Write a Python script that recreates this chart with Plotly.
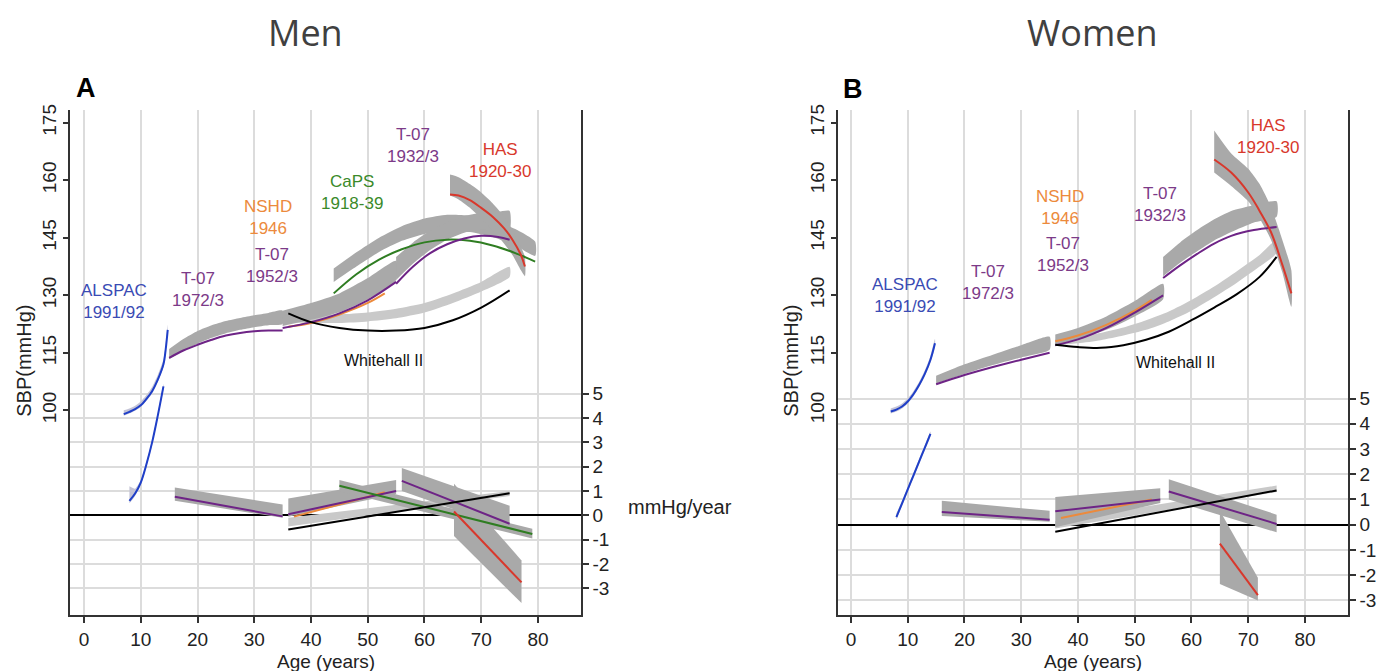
import plotly.graph_objects as go

# ================= DATA =================
# ---- Men: SBP trajectories (age, SBP mmHg) ----
M_ALSPAC_AGE = [7, 8, 9, 10, 11, 12, 13, 14, 14.4, 14.75]
M_ALSPAC_SBP = [99.0, 99.6, 100.3, 101.3, 103.0, 105.0, 108.0, 112.0, 116.0, 121.0]
M_ALSPAC_LO = [98.6, 99.2, 99.9, 100.9, 102.5, 104.4, 107.4, 111.3, 115.2, 120.2]
M_ALSPAC_HI = [100.0, 100.5, 101.2, 102.3, 104.0, 106.1, 109.2, 113.3, 117.3, 122.3]

M_T72_AGE = [15, 17.5, 20, 22.5, 25, 27.5, 30, 32.5, 35]
M_T72_SBP = [113.7, 115.6, 117.1, 118.4, 119.5, 120.2, 120.6, 120.8, 120.8]
M_T72_LO = [113.3, 115.6, 117.4, 118.9, 120.1, 121.0, 121.7, 122.2, 122.5]
M_T72_HI = [116.0, 118.6, 120.7, 122.2, 123.3, 124.1, 124.8, 125.4, 126.0]

M_T52_AGE = [35, 40, 45, 50, 55]
M_T52_SBP = [121.5, 123.0, 125.3, 128.7, 133.5]
M_T52_LO = [122.0, 123.6, 125.6, 129.0, 134.0]
M_T52_HI = [126.0, 128.0, 130.5, 134.5, 139.0]

M_NSHD_AGE = [36, 40, 45, 50, 53]
M_NSHD_SBP = [121.8, 122.8, 125.0, 128.0, 130.5]

M_CAPS_AGE = [44, 48, 52, 56, 60, 64, 68, 72, 76, 79.5]
M_CAPS_SBP = [130.5, 135.5, 139.3, 142.0, 143.8, 144.5, 144.2, 143.0, 141.0, 138.8]
M_CAPS_LO = [133.5, 137.5, 141.3, 144.2, 146.0, 146.7, 146.5, 145.2, 143.0, 140.3]
M_CAPS_HI = [137.0, 141.2, 145.0, 148.0, 150.0, 151.0, 150.8, 149.5, 147.3, 144.0]

M_T32_AGE = [55, 58, 61, 64, 67, 70, 73, 75]
M_T32_SBP = [133.0, 137.5, 141.0, 143.3, 144.8, 145.5, 145.2, 144.5]
M_T32_LO = [134.0, 138.3, 141.8, 144.5, 146.3, 147.2, 147.3, 147.0]
M_T32_HI = [140.0, 143.8, 146.8, 149.0, 150.6, 151.5, 151.8, 152.0]

M_HAS_AGE = [64.5, 66, 68, 70, 72, 74, 75.5, 77, 77.7]
M_HAS_SBP = [156.3, 156.0, 154.8, 152.8, 150.5, 147.5, 144.5, 140.5, 137.5]
M_HAS_LO = [156.0, 155.0, 152.8, 150.0, 147.0, 143.5, 140.5, 136.5, 135.0]
M_HAS_HI = [161.5, 160.8, 159.0, 156.8, 154.0, 150.5, 147.0, 142.5, 140.0]

M_WH_AGE = [36, 40, 45, 50, 55, 60, 65, 70, 75]
M_WH_SBP = [125.3, 123.0, 121.5, 120.8, 120.8, 121.5, 123.5, 126.8, 131.3]
M_WH_LO = [123.0, 122.8, 122.8, 123.2, 124.0, 125.5, 128.0, 131.0, 134.8]
M_WH_HI = [125.3, 125.0, 125.0, 125.5, 126.5, 128.0, 130.5, 133.5, 137.4]

# ---- Men: rate of change (mmHg/year) ----
M_R_ALSPAC_AGE = [8, 9, 10, 11, 12, 13, 14]
M_R_ALSPAC = [0.6, 0.9, 1.35, 2.1, 3.0, 4.1, 5.3]
M_R_ALSPAC_LO = [0.5, 0.8, 1.25, 2.0, 2.9, 4.0, 5.2]
M_R_ALSPAC_HI = [1.2, 1.1, 1.45, 2.2, 3.1, 4.2, 5.4]

M_R_T72_AGE = [16, 35]
M_R_T72 = [0.77, -0.04]
M_R_T72_LO = [0.6, -0.1]
M_R_T72_HI = [1.15, 0.45]

M_R_T52_AGE = [36, 55]
M_R_T52 = [0.05, 1.0]
M_R_T52_LO = [-0.05, 0.88]
M_R_T52_HI = [0.7, 1.45]

M_R_NSHD_AGE = [37, 53]
M_R_NSHD = [-0.05, 0.95]

M_R_CAPS_AGE = [45, 79]
M_R_CAPS = [1.22, -0.76]
M_R_CAPS_LO = [1.0, -0.95]
M_R_CAPS_HI = [1.45, -0.55]

M_R_T32_AGE = [56, 75]
M_R_T32 = [1.42, -0.34]
M_R_T32_LO = [1.0, -0.55]
M_R_T32_HI = [1.95, 0.4]

M_R_HAS_AGE = [65.2, 77.1]
M_R_HAS = [0.16, -2.75]
M_R_HAS_LO = [-0.85, -3.6]
M_R_HAS_HI = [1.3, -1.85]

M_R_WH_AGE = [36, 75]
M_R_WH = [-0.58, 0.91]
M_R_WH_LO = [-0.45, 0.8]
M_R_WH_HI = [-0.1, 1.0]

# ---- Women: SBP trajectories ----
W_ALSPAC_AGE = [7, 8, 9, 10, 11, 12, 13, 14, 14.8]
W_ALSPAC_SBP = [99.7, 100.2, 101.0, 102.3, 104.2, 106.6, 109.5, 113.2, 117.5]
W_ALSPAC_LO = [99.2, 99.7, 100.5, 101.8, 103.6, 106.0, 108.8, 112.4, 116.6]
W_ALSPAC_HI = [100.5, 101.0, 101.8, 103.1, 105.0, 107.4, 110.4, 114.2, 118.6]

W_T72_AGE = [15, 20, 25, 30, 35]
W_T72_SBP = [106.8, 109.2, 111.3, 113.2, 115.0]
W_T72_LO = [107.0, 109.5, 111.8, 113.8, 115.8]
W_T72_HI = [109.0, 112.0, 114.5, 117.0, 119.2]

W_T52_AGE = [36, 40, 45, 50, 55]
W_T52_SBP = [117.0, 118.5, 121.5, 125.5, 130.0]
W_T52_LO = [117.0, 118.5, 121.0, 124.5, 129.0]
W_T52_HI = [119.8, 121.5, 124.5, 128.5, 133.0]

W_NSHD_AGE = [36, 40, 45, 50, 53]
W_NSHD_SBP = [118.0, 119.5, 122.3, 126.0, 128.8]

W_T32_AGE = [55, 58, 61, 64, 67, 71, 75]
W_T32_SBP = [134.5, 137.8, 140.8, 143.5, 145.5, 147.0, 147.8]
W_T32_LO = [135.0, 138.5, 141.5, 144.3, 146.5, 149.0, 150.5]
W_T32_HI = [140.0, 143.8, 147.0, 149.8, 152.0, 153.5, 154.5]

W_HAS_AGE = [64, 67, 70, 72, 74, 76, 77.6]
W_HAS_SBP = [165.4, 162.0, 156.8, 152.0, 146.5, 138.0, 130.5]
W_HAS_LO = [162.0, 158.5, 154.5, 150.0, 144.5, 136.0, 127.0]
W_HAS_HI = [173.0, 167.0, 163.0, 159.0, 153.0, 144.5, 136.5]

W_WH_AGE = [36, 40, 44, 48, 52, 56, 60, 64, 68, 72, 75]
W_WH_SBP = [117.1, 116.5, 116.3, 117.0, 118.4, 120.5, 123.5, 126.8, 130.3, 134.8, 140.0]
W_WH_LO = [117.0, 117.5, 118.3, 119.5, 121.0, 123.2, 126.0, 129.5, 133.3, 137.5, 141.0]
W_WH_HI = [118.5, 119.3, 120.2, 121.6, 123.5, 125.8, 128.8, 132.3, 136.3, 140.5, 144.5]

# ---- Women: rate of change ----
W_R_ALSPAC_AGE = [8, 9, 10, 11, 12, 13, 14]
W_R_ALSPAC = [0.3, 0.85, 1.4, 1.95, 2.5, 3.05, 3.6]
W_R_ALSPAC_LO = [0.2, 0.75, 1.3, 1.85, 2.4, 2.95, 3.5]
W_R_ALSPAC_HI = [0.45, 0.95, 1.5, 2.05, 2.6, 3.15, 3.7]

W_R_T72_AGE = [16, 35]
W_R_T72 = [0.5, 0.2]
W_R_T72_LO = [0.35, 0.12]
W_R_T72_HI = [0.95, 0.55]

W_R_T52_AGE = [36, 54.5]
W_R_T52 = [0.53, 1.0]
W_R_T52_LO = [-0.1, 0.86]
W_R_T52_HI = [1.1, 1.45]

W_R_NSHD_AGE = [37, 53]
W_R_NSHD = [0.27, 1.0]

W_R_T32_AGE = [56, 75]
W_R_T32 = [1.32, 0.03]
W_R_T32_LO = [1.0, -0.3]
W_R_T32_HI = [1.8, 0.4]

W_R_HAS_AGE = [65, 71.7]
W_R_HAS = [-0.75, -2.79]
W_R_HAS_LO = [-2.35, -3.0]
W_R_HAS_HI = [0.55, -2.1]

W_R_WH_AGE = [36, 75]
W_R_WH = [-0.28, 1.36]
W_R_WH_LO = [-0.15, 1.3]
W_R_WH_HI = [0.15, 1.55]

# ---- Axis ticks ----
AGE_TICKS = [0, 10, 20, 30, 40, 50, 60, 70, 80]
SBP_TICKS = [100, 115, 130, 145, 160, 175]
RATE_TICKS = [-3, -2, -1, 0, 1, 2, 3, 4, 5]
RATE_LABELS = ["-3", "-2", "-1", "0", "1", "2", "3", "4", "5"]

# ---- Cohort labels (text, age, SBP) ----
M_LABELS = [
    ("ALSPAC<br>1991/92", 5.3, 128.4, "blue"),
    ("T-07<br>1972/3", 20.1, 131.5, "purple"),
    ("NSHD<br>1946", 32.4, 150.4, "orange"),
    ("T-07<br>1952/3", 33.1, 137.7, "purple"),
    ("CaPS<br>1918-39", 47.2, 156.8, "green"),
    ("T-07<br>1932/3", 58.0, 169.0, "purple"),
    ("HAS<br>1920-30", 73.3, 165.1, "red"),
    ("Whitehall II", 52.7, 112.9, "black"),
]
W_LABELS = [
    ("ALSPAC<br>1991/92", 9.5, 130.0, "blue"),
    ("T-07<br>1972/3", 24.1, 133.3, "purple"),
    ("NSHD<br>1946", 36.8, 153.0, "orange"),
    ("T-07<br>1952/3", 37.4, 140.6, "purple"),
    ("T-07<br>1932/3", 54.4, 153.7, "purple"),
    ("HAS<br>1920-30", 73.5, 171.3, "red"),
    ("Whitehall II", 57.1, 112.4, "black"),
]

# ================= STYLE =================
FONT = "Liberation Sans, Arial, sans-serif"
LINE_COL = {"blue": "#1f3fc8", "purple": "#6e2486", "orange": "#ec8a3c",
            "green": "#2f7d22", "red": "#d8382c", "black": "#000000"}
TEXT_COL = {"blue": "#3a4bb4", "purple": "#7c3a88", "orange": "#ec8a3c",
            "green": "#3a8a2a", "red": "#d8382c", "black": "#111111"}
BAND = "#a9a9a9"
BAND_LIGHT = "#c9c9c9"
BAND_BLUE = "#c3c3d6"
GRID = "#dcdcdc"
AX = "#333333"

fig = go.Figure()


def band(x, lo, hi, xa, ya, color, smooth=True):
    fig.add_trace(go.Scatter(
        x=list(x) + list(x)[::-1], y=list(hi) + list(lo)[::-1],
        fill="toself", fillcolor=color, mode="lines",
        line=dict(width=0, shape="spline" if smooth else "linear", smoothing=0.6),
        xaxis=xa, yaxis=ya, hoverinfo="skip", showlegend=False))


def curve(x, y, xa, ya, color, smooth=True):
    fig.add_trace(go.Scatter(
        x=x, y=y, mode="lines",
        line=dict(width=2, color=LINE_COL[color], shape="spline" if smooth else "linear"),
        xaxis=xa, yaxis=ya, hoverinfo="skip", showlegend=False))


# ---------- Men ----------
band(M_WH_AGE, M_WH_LO, M_WH_HI, "x", "y", BAND_LIGHT)
band(M_ALSPAC_AGE, M_ALSPAC_LO, M_ALSPAC_HI, "x", "y", BAND_BLUE)
band(M_T72_AGE, M_T72_LO, M_T72_HI, "x", "y", BAND)
band(M_T52_AGE, M_T52_LO, M_T52_HI, "x", "y", BAND)
band(M_CAPS_AGE, M_CAPS_LO, M_CAPS_HI, "x", "y", BAND)
band(M_T32_AGE, M_T32_LO, M_T32_HI, "x", "y", BAND)
band(M_HAS_AGE, M_HAS_LO, M_HAS_HI, "x", "y", BAND)
curve(M_ALSPAC_AGE, M_ALSPAC_SBP, "x", "y", "blue")
curve(M_T72_AGE, M_T72_SBP, "x", "y", "purple")
curve(M_NSHD_AGE, M_NSHD_SBP, "x", "y", "orange")
curve(M_T52_AGE, M_T52_SBP, "x", "y", "purple")
curve(M_CAPS_AGE, M_CAPS_SBP, "x", "y", "green")
curve(M_T32_AGE, M_T32_SBP, "x", "y", "purple")
curve(M_HAS_AGE, M_HAS_SBP, "x", "y", "red")
curve(M_WH_AGE, M_WH_SBP, "x", "y", "black")

band(M_R_WH_AGE, M_R_WH_LO, M_R_WH_HI, "x", "y3", BAND_LIGHT, False)
band(M_R_ALSPAC_AGE, M_R_ALSPAC_LO, M_R_ALSPAC_HI, "x", "y3", BAND_BLUE)
band(M_R_T72_AGE, M_R_T72_LO, M_R_T72_HI, "x", "y3", BAND, False)
band(M_R_T52_AGE, M_R_T52_LO, M_R_T52_HI, "x", "y3", BAND, False)
band(M_R_CAPS_AGE, M_R_CAPS_LO, M_R_CAPS_HI, "x", "y3", BAND, False)
band(M_R_T32_AGE, M_R_T32_LO, M_R_T32_HI, "x", "y3", BAND, False)
band(M_R_HAS_AGE, M_R_HAS_LO, M_R_HAS_HI, "x", "y3", BAND, False)
curve(M_R_ALSPAC_AGE, M_R_ALSPAC, "x", "y3", "blue")
curve(M_R_T72_AGE, M_R_T72, "x", "y3", "purple", False)
curve(M_R_NSHD_AGE, M_R_NSHD, "x", "y3", "orange", False)
curve(M_R_T52_AGE, M_R_T52, "x", "y3", "purple", False)
curve(M_R_CAPS_AGE, M_R_CAPS, "x", "y3", "green", False)
curve(M_R_T32_AGE, M_R_T32, "x", "y3", "purple", False)
curve(M_R_HAS_AGE, M_R_HAS, "x", "y3", "red", False)
curve(M_R_WH_AGE, M_R_WH, "x", "y3", "black", False)

# ---------- Women ----------
band(W_WH_AGE, W_WH_LO, W_WH_HI, "x2", "y2", BAND_LIGHT)
band(W_ALSPAC_AGE, W_ALSPAC_LO, W_ALSPAC_HI, "x2", "y2", BAND_BLUE)
band(W_T72_AGE, W_T72_LO, W_T72_HI, "x2", "y2", BAND)
band(W_T52_AGE, W_T52_LO, W_T52_HI, "x2", "y2", BAND)
band(W_T32_AGE, W_T32_LO, W_T32_HI, "x2", "y2", BAND)
band(W_HAS_AGE, W_HAS_LO, W_HAS_HI, "x2", "y2", BAND)
curve(W_ALSPAC_AGE, W_ALSPAC_SBP, "x2", "y2", "blue")
curve(W_T72_AGE, W_T72_SBP, "x2", "y2", "purple")
curve(W_NSHD_AGE, W_NSHD_SBP, "x2", "y2", "orange")
curve(W_T52_AGE, W_T52_SBP, "x2", "y2", "purple")
curve(W_T32_AGE, W_T32_SBP, "x2", "y2", "purple")
curve(W_HAS_AGE, W_HAS_SBP, "x2", "y2", "red")
curve(W_WH_AGE, W_WH_SBP, "x2", "y2", "black")

band(W_R_WH_AGE, W_R_WH_LO, W_R_WH_HI, "x2", "y4", BAND_LIGHT, False)
band(W_R_ALSPAC_AGE, W_R_ALSPAC_LO, W_R_ALSPAC_HI, "x2", "y4", BAND_BLUE)
band(W_R_T72_AGE, W_R_T72_LO, W_R_T72_HI, "x2", "y4", BAND, False)
band(W_R_T52_AGE, W_R_T52_LO, W_R_T52_HI, "x2", "y4", BAND, False)
band(W_R_T32_AGE, W_R_T32_LO, W_R_T32_HI, "x2", "y4", BAND, False)
band(W_R_HAS_AGE, W_R_HAS_LO, W_R_HAS_HI, "x2", "y4", BAND, False)
curve(W_R_ALSPAC_AGE, W_R_ALSPAC, "x2", "y4", "blue")
curve(W_R_T72_AGE, W_R_T72, "x2", "y4", "purple", False)
curve(W_R_NSHD_AGE, W_R_NSHD, "x2", "y4", "orange", False)
curve(W_R_T52_AGE, W_R_T52, "x2", "y4", "purple", False)
curve(W_R_T32_AGE, W_R_T32, "x2", "y4", "purple", False)
curve(W_R_HAS_AGE, W_R_HAS, "x2", "y4", "red", False)
curve(W_R_WH_AGE, W_R_WH, "x2", "y4", "black", False)

# ================= LAYOUT =================
W, H = 1378, 671
Y_DOM = [(H - 614) / H, (H - 105) / H]
tickfont = dict(family=FONT, size=19, color="#222222")


def xax(dom, rng, anchor):
    return dict(domain=dom, range=rng, anchor=anchor, tickvals=AGE_TICKS,
                showgrid=True, gridcolor=GRID, gridwidth=1.5, zeroline=False,
                showline=True, linecolor=AX, linewidth=1.5, ticks="outside",
                ticklen=7, tickwidth=1.5, tickcolor=AX, tickfont=tickfont)


def yax_sbp(anchor):
    return dict(domain=Y_DOM, range=[46.77, 178.3], anchor=anchor, side="left",
                tickvals=SBP_TICKS, tickangle=-90, showgrid=False, zeroline=False,
                showline=True, linecolor=AX, linewidth=1.5, ticks="outside",
                ticklen=5, tickwidth=1.5, tickcolor=AX, tickfont=tickfont)


def yax_rate(anchor, over, rng):
    return dict(range=rng, anchor=anchor, overlaying=over, side="right",
                tickvals=RATE_TICKS, ticktext=RATE_LABELS, showgrid=True,
                gridcolor=GRID, gridwidth=1.5, zeroline=True, zerolinecolor="#000000",
                zerolinewidth=2, showline=True, linecolor=AX, linewidth=1.5,
                ticks="outside", ticklen=6, tickwidth=1.5, tickcolor=AX,
                tickfont=tickfont)


fig.update_layout(
    width=W, height=H, autosize=False,
    margin=dict(l=0, r=0, t=0, b=0),
    paper_bgcolor="white", plot_bgcolor="white",
    xaxis=xax([70 / W, 581 / W], [-2.47, 87.58], "y"),
    xaxis2=xax([838 / W, 1348 / W], [-2.29, 87.58], "y2"),
    yaxis=yax_sbp("x"),
    yaxis2=yax_sbp("x2"),
    yaxis3=yax_rate("x", "y", [-4.07, 16.65]),
    yaxis4=yax_rate("x2", "y2", [-3.56, 16.44]),
)

ann = []
for txt, a, s, c in M_LABELS:
    ann.append(dict(text=txt, x=a, y=s, xref="x", yref="y", showarrow=False,
                    font=dict(family=FONT, size=17 if c != "black" else 16, color=TEXT_COL[c])))
for txt, a, s, c in W_LABELS:
    ann.append(dict(text=txt, x=a, y=s, xref="x2", yref="y2", showarrow=False,
                    font=dict(family=FONT, size=17 if c != "black" else 16, color=TEXT_COL[c])))


def paper(text, px, py, size, color="#222222", family=FONT, angle=0):
    ann.append(dict(text=text, x=px / W, y=1 - py / H, xref="paper", yref="paper",
                    showarrow=False, xanchor="center", yanchor="middle", textangle=angle,
                    font=dict(family=family, size=size, color=color)))


paper("Men", 305, 27, 36, "#404040", "Open Sans, sans-serif")
paper("Women", 1092, 27, 36, "#404040", "Open Sans, sans-serif")
paper("<b>A</b>", 86, 83, 27, "#000000")
paper("<b>B</b>", 853, 84, 27, "#000000")
paper("SBP(mmHg)", 24, 358, 20, angle=-90)
paper("SBP(mmHg)", 791, 358, 20, angle=-90)
paper("Age (years)", 326, 661, 19)
paper("Age (years)", 1093, 661, 19)
paper("mmHg/year", 680, 506, 20)

fig.update_layout(annotations=ann)
fig.write_html("out.html")
